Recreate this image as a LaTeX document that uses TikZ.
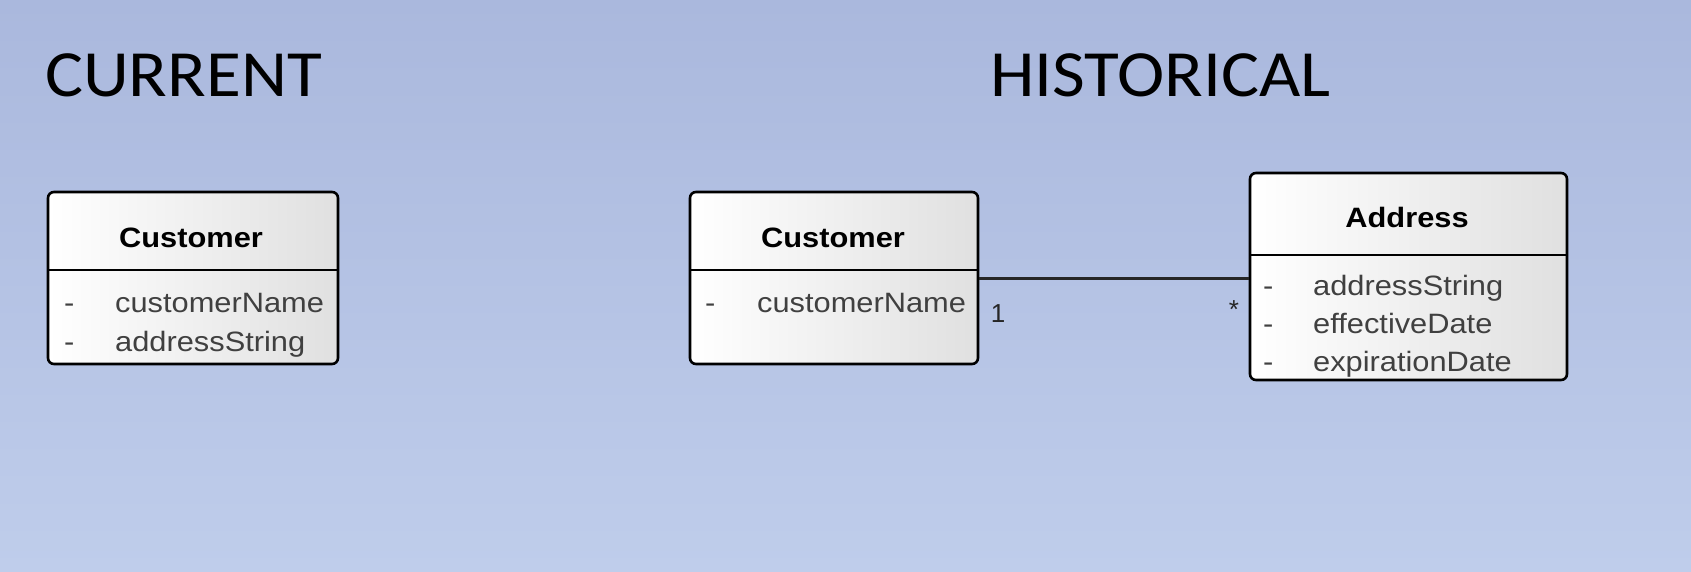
\documentclass[tikz,border=0pt]{standalone}
\usepackage{fontspec}
\setmainfont{Liberation Sans}
\newfontfamily\titlefont[FakeStretch=1.08]{Carlito}
\newfontfamily\boxfont[FakeStretch=1.1]{Liberation Sans}
\usetikzlibrary{calc}
\definecolor{bgtop}{RGB}{170,184,221}
\definecolor{bgbot}{RGB}{191,205,235}
\definecolor{attrgray}{RGB}{64,64,64}
\definecolor{boxgray}{RGB}{224,224,224}
\tikzset{
  classbox/.style={draw=black, line width=2.6pt, rounded corners=6pt, left color=white, right color=boxgray, inner sep=0pt},
  divider/.style={draw=black, line width=2.6pt},
  titletext/.style={font=\titlefont\fontsize{66}{66}\selectfont, anchor=base west, inner sep=0pt},
  classname/.style={font=\boxfont\bfseries\fontsize{28}{28}\selectfont, anchor=base, inner sep=0pt},
  attr/.style={font=\boxfont\fontsize{28}{28}\selectfont, text=attrgray, anchor=base west, inner sep=0pt},
  mult/.style={font=\fontsize{26}{26}\selectfont, text=black!85, anchor=base, inner sep=0pt},
  assoc/.style={draw=black!85, line width=2.6pt}
}
\begin{document}
\begin{tikzpicture}[x=1pt,y=-1pt]
\shade[top color=bgtop, bottom color=bgbot] (0,0) rectangle (1691,571);
\useasboundingbox (0,0) rectangle (1691,571);

\node[titletext] (tcur) at (45,96) {CURRENT};
\node[titletext] (this) at (990,96) {HISTORICAL};

% current customer
\node[classbox, minimum width=290pt, minimum height=172pt] (cust1) at (193,278) {};
\draw[divider] (48,270) -- (338,270);
\node[classname] (cust1n) at (191,247) {Customer};
\node[attr] (c1d1) at (64,312) {-};
\node[attr] (c1a1) at (115,312) {customerName};
\node[attr] (c1d2) at (64,351) {-};
\node[attr] (c1a2) at (115,351) {addressString};

% historical customer
\node[classbox, minimum width=288pt, minimum height=172pt] (cust2) at (834,278) {};
\draw[divider] (690,270) -- (978,270);
\node[classname] (cust2n) at (833,247) {Customer};
\node[attr] (c2d1) at (705,312) {-};
\node[attr] (c2a1) at (757,312) {customerName};

% address
\node[classbox, minimum width=317pt, minimum height=207pt] (addr) at (1408.5,276.5) {};
\draw[divider] (1250,255) -- (1567,255);
\node[classname] (addrn) at (1407,227) {Address};
\node[attr] (ad1) at (1263,295) {-};
\node[attr] (aa1) at (1313,295) {addressString};
\node[attr] (ad2) at (1263,333) {-};
\node[attr] (aa2) at (1313,333) {effectiveDate};
\node[attr] (ad3) at (1263,371) {-};
\node[attr] (aa3) at (1313,371) {expirationDate};

% association
\coordinate (aend) at ([yshift=-2pt]addr.west);
\draw[assoc] (cust2.east |- aend) -- (aend);
\node[mult] (m1) at (998,322) {1};
\node[mult] (m2) at (1234,318) {*};
\end{tikzpicture}
\end{document}
